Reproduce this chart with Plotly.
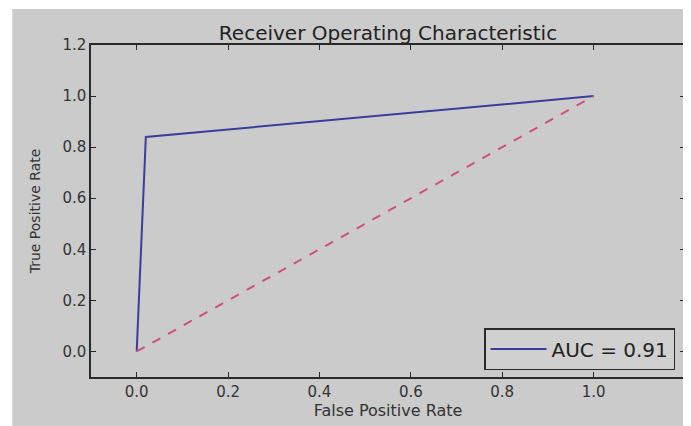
import plotly.graph_objects as go

fpr = [0.0, 0.02, 1.0]
tpr = [0.0, 0.84, 1.0]
diag_x = [0.0, 1.0]
diag_y = [0.0, 1.0]
auc_label = "AUC = 0.91"
x_ticks = [0.0, 0.2, 0.4, 0.6, 0.8, 1.0, 1.2]
y_ticks = [0.0, 0.2, 0.4, 0.6, 0.8, 1.0, 1.2]
tick_text = ["0.0", "0.2", "0.4", "0.6", "0.8", "1.0", "1.2"]

GRAY = "#cbcbcb"
FONT = "DejaVu Sans"

fig = go.Figure()
fig.add_trace(go.Scatter(x=fpr, y=tpr, mode="lines", name=auc_label,
                         line=dict(color="#3c3c9c", width=2)))
fig.add_trace(go.Scatter(x=diag_x, y=diag_y, mode="lines", showlegend=False,
                         line=dict(color="#d0507a", width=2, dash="dash")))

W, H = 683, 418
L, R, T, B = 83, 4, 37, 49
pw, ph = W - L - R, H - T - B

def px(x):
    return (x - L) / pw

def py(y):
    return (H - B - y) / ph

# thin white strip at the left edge (as in the reference)
fig.add_shape(type="rect", xref="paper", yref="paper", x0=px(-5), x1=px(4), y0=py(H + 5), y1=py(-5),
              fillcolor="white", line=dict(width=0), layer="below")
fig.add_shape(type="rect", xref="paper", yref="paper", x0=px(-5), x1=px(W + 5), y0=py(1), y1=py(-5),
              fillcolor="white", line=dict(width=0), layer="below")

axis_common = dict(showgrid=False, zeroline=False, showline=True, mirror="ticks",
                   linecolor="#2a2a2a", linewidth=1.5, ticks="inside", ticklen=5,
                   tickcolor="#2a2a2a", tickwidth=1,
                   tickfont=dict(family=FONT, size=15, color="#333333"))

fig.update_layout(
    width=W, height=H,
    margin=dict(l=L, r=R, t=T, b=B),
    paper_bgcolor=GRAY, plot_bgcolor=GRAY,
    title=dict(text="Receiver Operating Characteristic", xref="container", x=380 / W, xanchor="center",
               y=1 - 25 / H, yanchor="middle",
               font=dict(family=FONT, size=20, color="#222222")),
    xaxis=dict(range=[-0.1, 1.2], tickvals=x_ticks, ticktext=tick_text,
               title=dict(text="False Positive Rate", standoff=3,
                          font=dict(family=FONT, size=16, color="#333333")),
               **axis_common),
    yaxis=dict(range=[-0.1, 1.2], tickvals=y_ticks, ticktext=tick_text,
               title=dict(text="True Positive Rate", standoff=18,
                          font=dict(family=FONT, size=14, color="#333333")),
               **axis_common),
    legend=dict(x=px(669), xanchor="right", y=py(362), yanchor="bottom",
                bgcolor="#d0d0d0", bordercolor="#2a2a2a", borderwidth=1.5,
                itemwidth=56,
                font=dict(family=FONT, size=20, color="#222222")),
    showlegend=True,
)

fig.write_html("out.html")
